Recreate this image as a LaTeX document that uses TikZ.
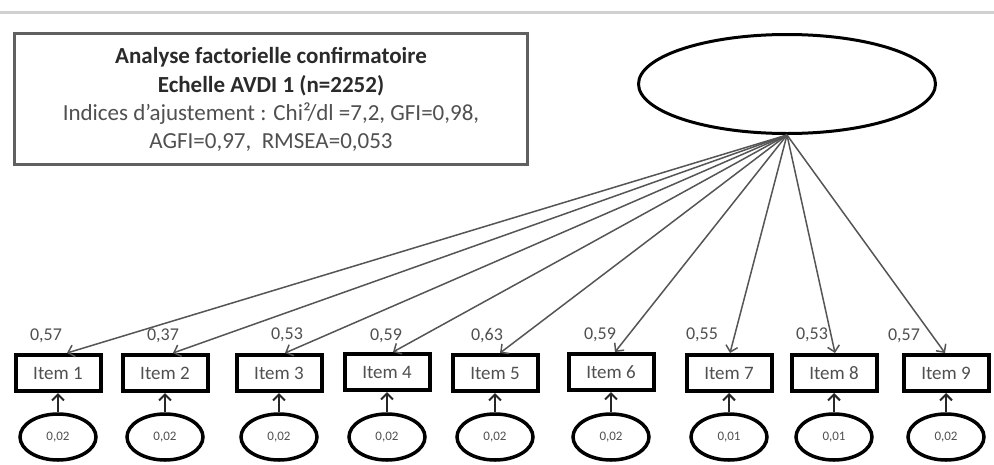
\documentclass[tikz,border=0pt]{standalone}
\usepackage{fontspec}
\setmainfont{Carlito}
\usetikzlibrary{arrows.meta,shapes.geometric}
\definecolor{boxgray}{HTML}{606060}
\definecolor{txtdark}{HTML}{2A2A2A}
\definecolor{txtgray}{HTML}{505050}
\definecolor{linegray}{HTML}{555555}
\definecolor{rulegray}{HTML}{D0D0D0}
\begin{document}
\begin{tikzpicture}[x=1pt,y=-1pt,
  itembox/.style={draw=black,line width=4pt,minimum width=85pt,minimum height=36pt,inner sep=0pt,
    font=\fontsize{19}{22}\selectfont,text=txtgray},
  errell/.style={ellipse,draw=black,line width=3.5pt,minimum width=76pt,minimum height=46pt,inner sep=0pt,
    font=\fontsize{13}{15}\selectfont,text=txtgray},
  factor/.style={ellipse,draw=black,line width=3pt,minimum width=297pt,minimum height=99pt,inner sep=0pt},
  loadarrow/.style={draw=linegray,line width=1.5pt,-{Straight Barb[length=6pt,width=12pt]}},
  errarrow/.style={draw=black!85,line width=2pt,-{Straight Barb[length=6pt,width=12pt]}},
  loadlbl/.style={font=\fontsize{18}{20}\selectfont,text=txtgray,inner sep=0pt},
  titleline/.style={anchor=base,inner sep=0pt,font=\fontsize{23}{28}\selectfont\bfseries,text=txtdark},
  infoline/.style={anchor=base,inner sep=0pt,font=\fontsize{23}{28}\selectfont,text=txtgray}]
\useasboundingbox (0,0) rectangle (994,464);
\fill[white] (0,0) rectangle (994,464);
\draw[rulegray,line width=3pt] (0,12) -- (994,12);

% info box
\node[draw=boxgray,line width=3pt,minimum width=513pt,minimum height=131pt,inner sep=0pt] (info) at (271,99) {};
\node[titleline] (t1) at (271,63) {Analyse factorielle confirmatoire};
\node[titleline] (t2) at (271,92) {Echelle AVDI 1 (n=2252)};
\node[infoline] (t3) at (271,120) {Indices d’ajustement : Chi²/dl =7,2, GFI=0,98,};
\node[infoline] (t4) at (271,148) {AGFI=0,97,\ \ RMSEA=0,053};

% factor
\node[factor] (F) at (787,84) {};

% items
\node[itembox] (i1) at (58,373) {Item 1};
\node[itembox] (i2) at (165,373) {Item 2};
\node[itembox] (i3) at (279,373) {Item 3};
\node[itembox] (i4) at (387,372) {Item 4};
\node[itembox] (i5) at (495,373) {Item 5};
\node[itembox] (i6) at (611,372) {Item 6};
\node[itembox] (i7) at (729,373) {Item 7};
\node[itembox] (i8) at (834,373) {Item 8};
\node[itembox] (i9) at (946,373) {Item 9};

% error terms
\node[errell] (e1) at (58,437) {0,02};
\node[errell] (e2) at (165,437) {0,02};
\node[errell] (e3) at (279,437) {0,02};
\node[errell] (e4) at (387,437) {0,02};
\node[errell] (e5) at (495,437) {0,02};
\node[errell] (e6) at (611,437) {0,02};
\node[errell] (e7) at (729,437) {0,01};
\node[errell] (e8) at (834,437) {0,01};
\node[errell] (e9) at (946,437) {0,02};

% loading labels
\node[loadlbl] (l1) at (46,336) {0,57};
\node[loadlbl] (l2) at (163,336) {0,37};
\node[loadlbl] (l3) at (287,335) {0,53};
\node[loadlbl] (l4) at (386,336) {0,59};
\node[loadlbl] (l5) at (487,336) {0,63};
\node[loadlbl] (l6) at (600,335) {0,59};
\node[loadlbl] (l7) at (702,335) {0,55};
\node[loadlbl] (l8) at (812,335) {0,53};
\node[loadlbl] (l9) at (904,336) {0,57};

% error arrows
\foreach \n in {1,...,9}{\draw[errarrow] (e\n) -- (i\n);}

% loading arrows
\draw[loadarrow] (F.south) -- ([xshift=9pt]i1.north);
\draw[loadarrow] (F.south) -- ([xshift=8pt]i2.north);
\draw[loadarrow] (F.south) -- ([xshift=6pt]i3.north);
\draw[loadarrow] (F.south) -- ([xshift=6pt]i4.north);
\draw[loadarrow] (F.south) -- ([xshift=5pt]i5.north);
\draw[loadarrow] (F.south) -- ([xshift=4pt]i6.north);
\draw[loadarrow] (F.south) -- ([xshift=1pt]i7.north);
\draw[loadarrow] (F.south) -- ([xshift=1pt]i8.north);
\draw[loadarrow] (F.south) -- ([xshift=-1pt]i9.north);
\end{tikzpicture}
\end{document}
